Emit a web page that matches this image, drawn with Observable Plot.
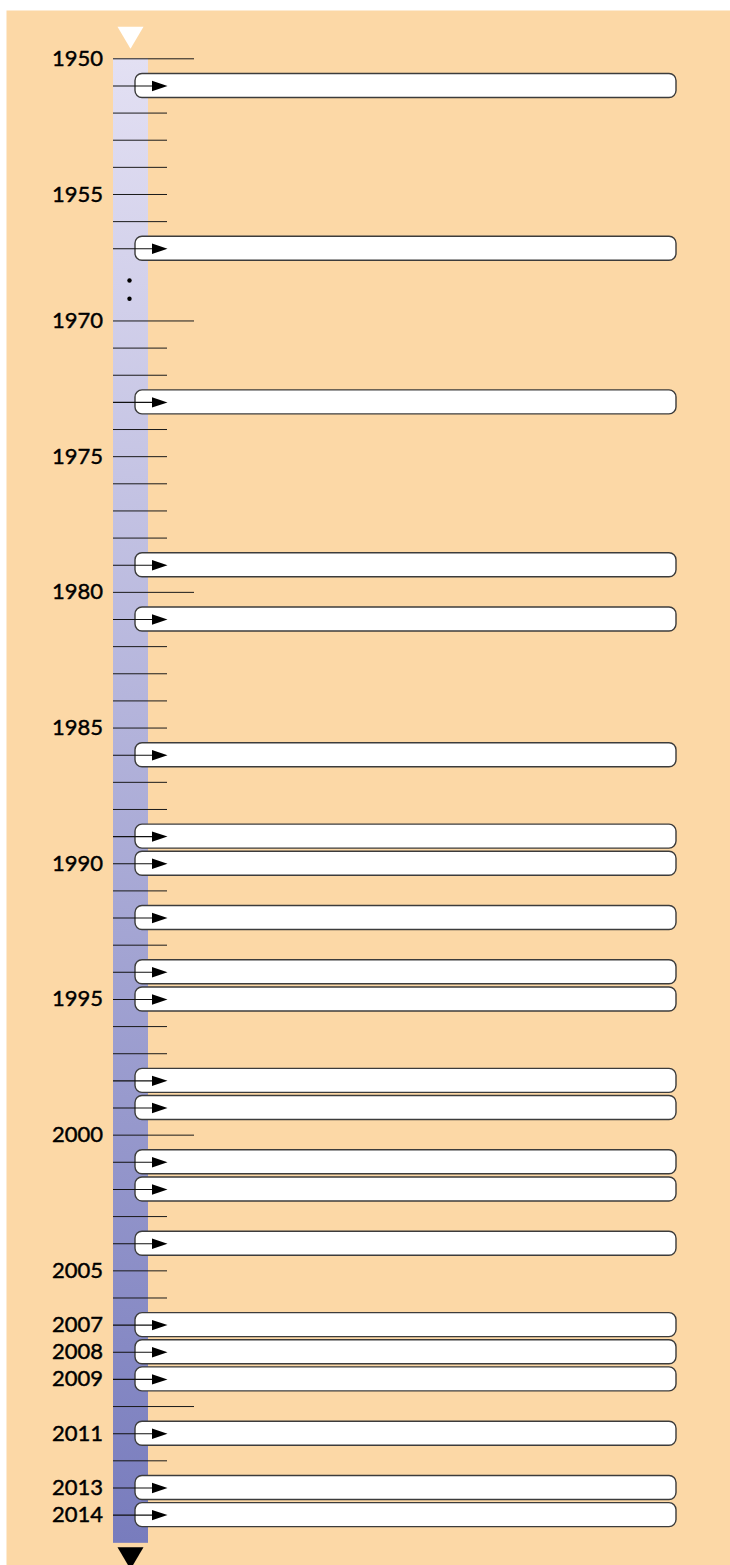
<!DOCTYPE html>
<html>
<head>
<meta charset="utf-8">
<script src="https://cdn.jsdelivr.net/npm/d3@7"></script>
<script src="https://cdn.jsdelivr.net/npm/@observablehq/plot@0.6"></script>
<style>
  html, body { margin: 0; padding: 0; background: #ffffff; }
  #chart svg { display: block; }
</style>
</head>
<body>
<div id="chart"></div>
<script>
// ---- data ----
const tickYears = [1950, 1951, 1952, 1953, 1954, 1955, 1956, 1957,
  1970, 1971, 1972, 1973, 1974, 1975, 1976, 1977, 1978, 1979,
  1980, 1981, 1982, 1983, 1984, 1985, 1986, 1987, 1988, 1989,
  1990, 1991, 1992, 1993, 1994, 1995, 1996, 1997, 1998, 1999,
  2000, 2001, 2002, 2003, 2004, 2005, 2006, 2007, 2008, 2009,
  2010, 2011, 2012, 2013, 2014];
const longTickYears = [1950, 1970, 1980, 2000, 2010];
const labelYears = [1950, 1955, 1970, 1975, 1980, 1985, 1990, 1995, 2000, 2005, 2007, 2008, 2009, 2011, 2013, 2014];
const eventYears = [1951, 1957, 1973, 1979, 1981, 1986, 1989, 1990, 1992, 1994, 1995,
  1998, 1999, 2001, 2002, 2004, 2007, 2008, 2009, 2011, 2013, 2014];
const breakAfter = 1957;   // axis is broken between 1957 and 1970
const resumeAt = 1970;

// ---- axis position (broken scale) ----
const gap = 2.66;          // visual size of the break, in year units
const pos = y => y <= breakAfter ? y - 1950 : (breakAfter - 1950) + gap + (y - resumeAt);
const breakDots = [breakAfter - 1950 + 1.17, breakAfter - 1950 + 1.84];
const barEnd = pos(2014) + 1.04;

// ---- layout ----
const L = {barL: 113, barR: 148, barMid: 130, shortX: 167, longX: 194,
  boxL: 135, boxR: 676, labelX: 102.5, arrowEnd: 153, arrowTip: 167};
const peach = "#FCD8A6";

const triDown = {draw(ctx) { ctx.moveTo(-13, -11); ctx.lineTo(13, -11); ctx.lineTo(0, 11); ctx.closePath(); }};
const arrowHead = {draw(ctx) { ctx.moveTo(-15.5, -5.2); ctx.lineTo(0, 0); ctx.lineTo(-15.5, 5.2); ctx.closePath(); }};

const plainTicks = tickYears.filter(y => !eventYears.includes(y));

const plot = Plot.plot({
  width: 730,
  height: 1565,
  marginTop: 10, marginLeft: 6, marginRight: 0, marginBottom: 0,
  style: {fontFamily: "Lato, 'Noto Sans', sans-serif", background: "#ffffff", overflow: "hidden"},
  x: {domain: [0, 730], range: [0, 730], axis: null},
  y: {domain: [0, pos(2014)], range: [58.3, 1514.6], axis: null},
  marks: [
    Plot.frame({fill: peach, stroke: "none"}),
    // gradient bar
    Plot.rect([{a: 0, b: barEnd}], {x1: () => L.barL, x2: () => L.barR, y1: "a", y2: "b", fill: "url(#barGrad)"}),
    // tick lines
    Plot.ruleY(plainTicks, {y: pos, x1: () => L.barL, x2: d => longTickYears.includes(d) ? L.longX : L.shortX, stroke: "#1a1a1a", strokeWidth: 1}),
    // event boxes
    Plot.rect(eventYears, {x1: () => L.boxL, x2: () => L.boxR, y1: pos, y2: pos, insetTop: -12, insetBottom: -12, rx: 7, ry: 7, fill: "#ffffff", stroke: "#3c3c3c", strokeWidth: 1.4}),
    // arrows
    Plot.ruleY(eventYears, {y: pos, x1: () => L.barL, x2: () => L.arrowEnd, stroke: "#111", strokeWidth: 1.1}),
    Plot.dot(eventYears, {y: pos, x: () => L.arrowTip, symbol: arrowHead, fill: "#000", stroke: "none", r: 5}),
    // break dots
    Plot.dot(breakDots, {y: d => d, x: () => L.barMid - 1, r: 2.2, fill: "#000", stroke: "none"}),
    // year labels
    Plot.text(labelYears, {y: pos, x: () => L.labelX, text: d => String(d), textAnchor: "end", fontSize: 22, fill: "#000", stroke: "#000", strokeWidth: 0.45}),
    // start / end triangles
    Plot.dot([0], {y: d => d, x: () => L.barMid, dy: -21, symbol: triDown, fill: "#ffffff", stroke: "none", r: 5}),
    Plot.dot([barEnd], {y: d => d, x: () => L.barMid, dy: 15, symbol: triDown, fill: "#000000", stroke: "none", r: 5})
  ]
});

const defs = d3.select(plot).insert("defs", ":first-child");
const g = defs.append("linearGradient").attr("id", "barGrad").attr("x1", 0).attr("y1", 0).attr("x2", 0).attr("y2", 1);
g.append("stop").attr("offset", "0%").attr("stop-color", "#E3E0F3");
g.append("stop").attr("offset", "100%").attr("stop-color", "#787CBD");

document.getElementById("chart").appendChild(plot);
</script>
</body>
</html>
